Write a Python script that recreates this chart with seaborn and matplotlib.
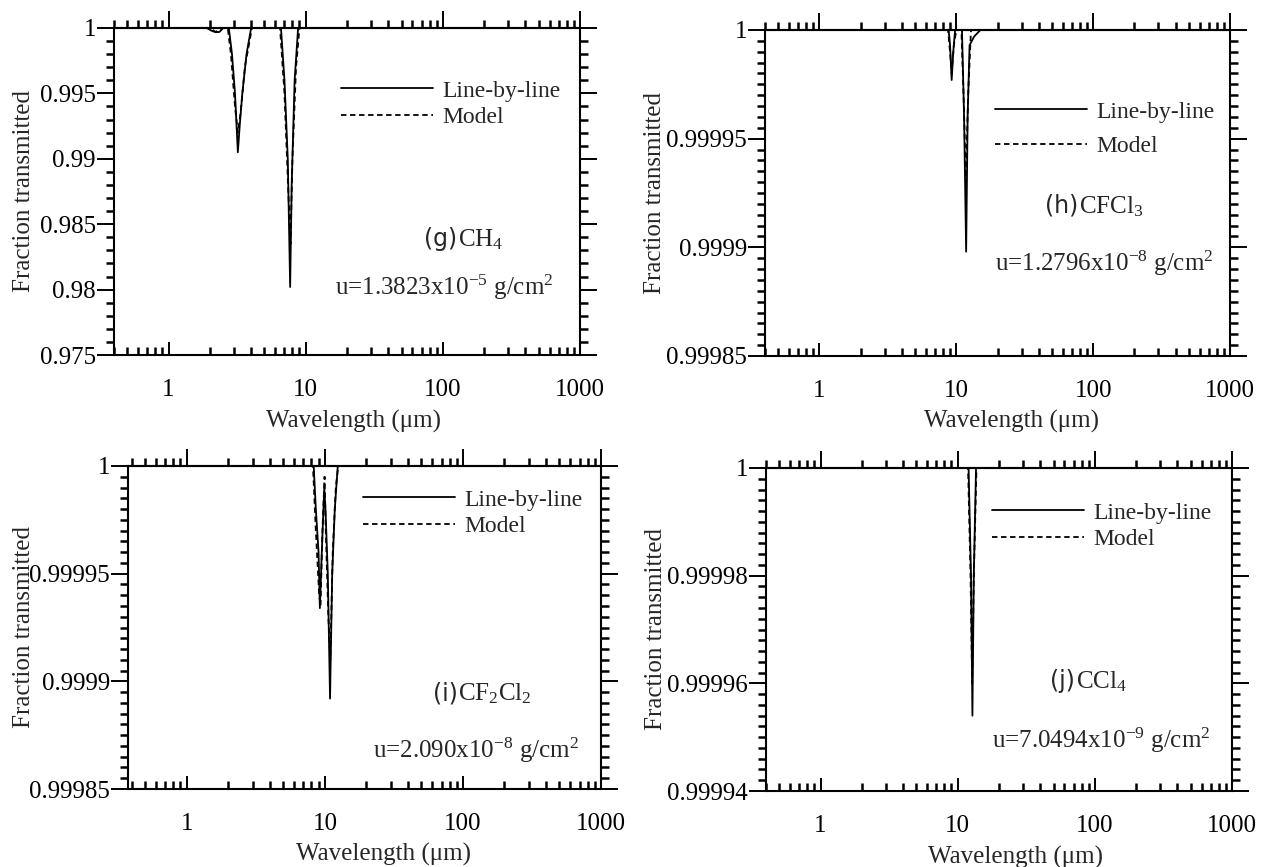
import matplotlib
matplotlib.use("Agg")
import matplotlib.pyplot as plt
import seaborn as sns
from matplotlib.ticker import FixedLocator, LogLocator, MultipleLocator, NullFormatter

# ---------------- transmission spectra (wavelength in micrometres) ----------------
# (g) CH4
ch4_wl_lbl = [0.4, 1.9, 2.05, 2.2, 2.35, 2.5, 2.75, 2.9, 3.05, 3.2, 3.3, 3.45, 3.7, 4.0,
              6.6, 7.0, 7.4, 7.7, 7.9, 8.3, 8.8, 1000]
ch4_tr_lbl = [1.0, 1.0, 0.9998, 0.99968, 0.9997, 1.0, 1.0, 0.998, 0.995, 0.9905, 0.9925, 0.995, 0.998, 1.0,
              1.0, 0.996, 0.99, 0.9802, 0.988, 0.996, 1.0, 1.0]
ch4_wl_mod = [0.4, 2.0, 2.2, 2.45, 2.7, 2.85, 3.05, 3.2, 3.35, 3.6, 4.05,
              6.5, 7.0, 7.5, 7.75, 8.0, 8.5, 9.0, 1000]
ch4_tr_mod = [1.0, 1.0, 0.9997, 1.0, 1.0, 0.998, 0.994, 0.992, 0.9935, 0.997, 1.0,
              1.0, 0.995, 0.987, 0.9835, 0.99, 0.997, 1.0, 1.0]

# (h) CFCl3
cfcl3_wl_lbl = [0.4, 8.8, 9.0, 9.25, 9.5, 9.8, 11.0, 11.4, 11.8, 12.1, 12.5, 13.5, 15.0, 1000]
cfcl3_tr_lbl = [1.0, 1.0, 0.999993, 0.999977, 0.99999, 1.0, 1.0, 0.99996, 0.999898, 0.99996, 0.999993,
                0.999997, 1.0, 1.0]
cfcl3_wl_mod = [0.4, 8.7, 9.0, 9.25, 9.6, 10.0, 10.9, 11.3, 11.75, 12.2, 12.8, 1000]
cfcl3_tr_mod = [1.0, 1.0, 0.99999, 0.99998, 0.999993, 1.0, 1.0, 0.99997, 0.99993, 0.99997, 1.0, 1.0]

# (i) CF2Cl2
cf2cl2_wl_lbl = [0.38, 8.3, 8.6, 9.0, 9.2, 9.5, 9.9, 10.1, 10.5, 10.9, 11.3, 11.8, 12.4, 1000]
cf2cl2_tr_lbl = [1.0, 1.0, 0.99998, 0.99996, 0.999934, 0.99996, 0.99999, 0.99998, 0.99995, 0.999892,
                 0.99995, 0.99998, 1.0, 1.0]
cf2cl2_wl_mod = [0.38, 8.2, 8.6, 9.1, 9.3, 9.6, 9.95, 10.15, 10.6, 10.95, 11.4, 12.0, 12.5, 1000]
cf2cl2_tr_mod = [1.0, 1.0, 0.99997, 0.99994, 0.999935, 0.99997, 0.999995, 0.99997, 0.99993, 0.99991,
                 0.99996, 0.99999, 1.0, 1.0]

# (j) CCl4
ccl4_wl_lbl = [0.4, 12.0, 12.5, 12.8, 13.1, 13.6, 1000]
ccl4_tr_lbl = [1.0, 1.0, 0.99998, 0.999954, 0.99998, 1.0, 1.0]
ccl4_wl_mod = [0.4, 11.9, 12.4, 12.75, 13.1, 13.7, 1000]
ccl4_tr_mod = [1.0, 1.0, 0.99998, 0.99996, 0.99998, 1.0, 1.0]

# ---------------- axis tick values and labels ----------------
x_major = [1, 10, 100, 1000]
x_major_labels = ["1", "10", "100", "1000"]

ch4_yticks = [0.975, 0.98, 0.985, 0.99, 0.995, 1.0]
ch4_ylabels = ["0.975", "0.98", "0.985", "0.99", "0.995", "1"]
cfc_yticks = [0.99985, 0.9999, 0.99995, 1.0]
cfc_ylabels = ["0.99985", "0.9999", "0.99995", "1"]
ccl4_yticks = [0.99994, 0.99996, 0.99998, 1.0]
ccl4_ylabels = ["0.99994", "0.99996", "0.99998", "1"]

# ---------------- style ----------------
sns.set_theme(style="ticks")
plt.rcParams["font.family"] = ["Liberation Serif", "DejaVu Serif"]
plt.rcParams["mathtext.fontset"] = "custom"
plt.rcParams["mathtext.rm"] = "Liberation Serif"
plt.rcParams["mathtext.it"] = "Liberation Serif:italic"
plt.rcParams["mathtext.bf"] = "Liberation Serif:bold"
plt.rcParams["axes.linewidth"] = 1.5

W, H = 1263, 867
FS = 18
fig = plt.figure(figsize=(W / 100, H / 100), dpi=100)
fig.patch.set_facecolor("white")


def fig_xy(x, y):
    return x / W, 1 - y / H


def make_axes(l, r, t, b):
    return fig.add_axes([l / W, 1 - b / H, (r - l) / W, (b - t) / H])


def draw_panel(box, xmin, wl_lbl, tr_lbl, wl_mod, tr_mod, ylim, yticks, ylabels, yminor,
               ylabel_x, xlabel_xy, legend_xy, legend_spacing):
    l, r, t, b = box
    ax = make_axes(l, r, t, b)
    ax.set_facecolor("white")
    sns.lineplot(x=wl_lbl, y=tr_lbl, ax=ax, color="black", lw=1.3, sort=False,
                 estimator=None, label="Line-by-line")
    sns.lineplot(x=wl_mod, y=tr_mod, ax=ax, color="black", lw=1.3, sort=False,
                 estimator=None, linestyle=(0, (3, 2)), label="Model")
    ax.set_xscale("log")
    ax.set_xlim(xmin, 1000)
    ax.set_ylim(*ylim)

    # x axis: inward ticks along the bottom
    ax.xaxis.set_major_locator(FixedLocator(x_major))
    ax.xaxis.set_minor_locator(LogLocator(base=10, subs=range(2, 10), numticks=50))
    ax.xaxis.set_minor_formatter(NullFormatter())
    ax.set_xticklabels(x_major_labels)
    ax.tick_params(axis="x", which="both", direction="in", bottom=True, top=False,
                   labelsize=FS, pad=17, colors="black")
    ax.tick_params(axis="x", which="major", length=9.5, width=1.4)
    ax.tick_params(axis="x", which="minor", length=5.8, width=1.8)

    # outward ticks along the top
    top = ax.secondary_xaxis("top")
    top.xaxis.set_major_locator(FixedLocator(x_major))
    top.xaxis.set_minor_locator(LogLocator(base=10, subs=range(2, 10), numticks=50))
    top.xaxis.set_major_formatter(NullFormatter())
    top.xaxis.set_minor_formatter(NullFormatter())
    top.tick_params(axis="x", which="both", direction="out", colors="black")
    top.tick_params(axis="x", which="major", length=12, width=1.4)
    top.tick_params(axis="x", which="minor", length=5.8, width=1.8)
    top.spines["top"].set_linewidth(1.5)

    # y axis: outward ticks on both sides
    ax.yaxis.set_major_locator(FixedLocator(yticks))
    ax.yaxis.set_minor_locator(MultipleLocator(yminor))
    ax.set_yticklabels(ylabels)
    ax.tick_params(axis="y", which="both", direction="out", left=True, right=True,
                   labelsize=FS, pad=0.5, colors="black")
    ax.tick_params(axis="y", which="major", length=12.5, width=1.4)
    ax.tick_params(axis="y", which="minor", length=5.8, width=1.8)
    for s in ax.spines.values():
        s.set_visible(True)
        s.set_color("black")
        s.set_linewidth(1.5)

    ax.set_ylabel("Fraction transmitted", fontsize=FS)
    ax.yaxis.set_label_coords((ylabel_x - l) / (r - l), 0.5)
    ax.set_xlabel("Wavelength (μm)", fontsize=FS)
    ax.xaxis.set_label_coords((xlabel_xy[0] - l) / (r - l), (b - xlabel_xy[1]) / (b - t))

    ax.legend(loc="center left", bbox_to_anchor=fig_xy(*legend_xy),
              bbox_transform=fig.transFigure, frameon=False, fontsize=17,
              handlelength=3.9, handletextpad=0.4, borderpad=0, borderaxespad=0,
              labelspacing=legend_spacing)
    return ax


ax_g = draw_panel((114, 580, 28, 355), 0.4, ch4_wl_lbl, ch4_tr_lbl, ch4_wl_mod, ch4_tr_mod,
                  (0.975, 1.0), ch4_yticks, ch4_ylabels, 0.001,
                  35, (354, 410), (341, 104), 0.2)
ax_h = draw_panel((765, 1230, 30, 356), 0.4, cfcl3_wl_lbl, cfcl3_tr_lbl, cfcl3_wl_mod, cfcl3_tr_mod,
                  (0.99985, 1.0), cfc_yticks, cfc_ylabels, 0.000005,
                  666, (1011, 410), (995, 129), 0.55)
ax_i = draw_panel((128, 601, 466, 789), 0.375, cf2cl2_wl_lbl, cf2cl2_tr_lbl, cf2cl2_wl_mod, cf2cl2_tr_mod,
                  (0.99985, 1.0), cfc_yticks, cfc_ylabels, 0.000005,
                  35, (383, 843), (363, 513), 0.2)
ax_j = draw_panel((766, 1232, 468, 791), 0.4, ccl4_wl_lbl, ccl4_tr_lbl, ccl4_wl_mod, ccl4_tr_mod,
                  (0.99994, 1.0), ccl4_yticks, ccl4_ylabels, 0.000002,
                  667, (1016, 846), (992, 526), 0.2)

# ---------------- species names and column amounts ----------------
def species(x_tag, x_name, y_base, tag, name):
    fig.text(*fig_xy(x_tag, y_base), tag, family="DejaVu Sans", fontsize=17,
             ha="left", va="baseline")
    fig.text(*fig_xy(x_name, y_base), name, fontsize=FS, ha="left", va="baseline")


def amount(x, y, text):
    fig.text(*fig_xy(x, y), text, fontsize=FS, ha="left", va="center")


species(424, 458, 246, "(g)", r"CH$_4$")
amount(335, 287, r"u=1.3823x10$^{-5}$ g/cm$^2$")

species(1045, 1079, 213, "(h)", r"CFCl$_3$")
amount(995, 263, r"u=1.2796x10$^{-8}$ g/cm$^2$")

species(433, 458, 700, "(i)", r"CF$_2$Cl$_2$")
amount(373, 750, r"u=2.090x10$^{-8}$ g/cm$^2$")

species(1050, 1076, 688, "(j)", r"CCl$_4$")
amount(992, 740, r"u=7.0494x10$^{-9}$ g/cm$^2$")

fig.savefig("out.png", dpi=100, facecolor="white")
